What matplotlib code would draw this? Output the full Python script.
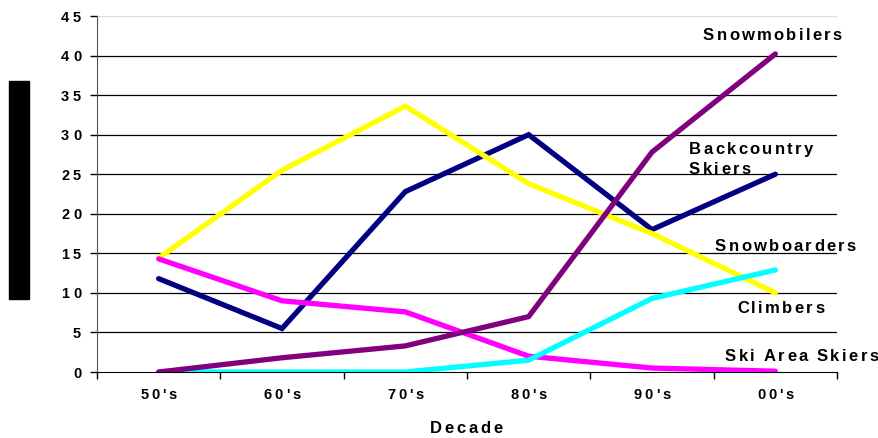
import numpy as np
import matplotlib.pyplot as plt
from matplotlib.patches import Rectangle
from matplotlib.transforms import offset_copy, blended_transform_factory
from matplotlib.font_manager import FontProperties, findfont, get_font

plt.rcParams['font.family'] = ['Liberation Sans', 'DejaVu Sans']

decades = ["50's", "60's", "70's", "80's", "90's", "00's"]
y_ticks = [0, 5, 10, 15, 20, 25, 30, 35, 40, 45]

backcountry = [11.8, 5.5, 22.8, 30.0, 18.0, 25.0]
climbers = [14.4, 25.5, 33.6, 23.8, 17.5, 10.0]
ski_area = [14.3, 9.0, 7.6, 2.0, 0.5, 0.1]
snowboarders = [0.0, 0.0, 0.0, 1.5, 9.3, 12.9]
snowmobilers = [0.0, 1.8, 3.3, 7.0, 27.8, 40.2]

series = [
    (backcountry, "#000080"),
    (climbers, "#FFFF00"),
    (ski_area, "#FF00FF"),
    (snowboarders, "#00FFFF"),
    (snowmobilers, "#800080"),
]

W, H = 879, 438
fig = plt.figure(figsize=(W / 100, H / 100), dpi=100)
ax = fig.add_axes([97 / W, 66 / H, 740 / W, 356 / H])

_font = get_font(findfont(FontProperties(family='Liberation Sans', weight='bold')))


def spaced_text(x, y, s, transform, size=12, track=1.6, ha='left'):
    """Bold text with extra letter spacing (in points), drawn char by char."""
    _font.set_size(size, 72)
    advs = []
    for c in s:
        g = _font.load_char(ord(c))
        advs.append(g.linearHoriAdvance / 65536)
    total = sum(advs) + track * (len(s) - 1)
    off = {'left': 0.0, 'center': -total / 2, 'right': -total}[ha]
    for c, a in zip(s, advs):
        if c != ' ':
            fig.text(x, y, c, fontsize=size, fontweight='bold', ha='left',
                     va='baseline',
                     transform=offset_copy(transform, fig, x=off, units='points'))
        off += a + track


x = np.arange(len(decades))
for vals, color in series:
    ax.plot(x, vals, color=color, lw=3.8, solid_capstyle='round',
            solid_joinstyle='miter', zorder=3)

ax.set_xlim(-0.5, len(decades) - 0.5)
ax.set_ylim(0, 45)
ax.set_yticks(y_ticks)
ax.set_xticks(np.arange(-0.5, len(decades), 1))
ax.tick_params(axis='x', length=5, direction='out', width=1, labelbottom=False)
ax.tick_params(axis='y', length=5, direction='out', width=1, labelleft=False)

for y in y_ticks[1:-1]:
    ax.axhline(y, color='black', lw=0.9, zorder=1)
ax.axhline(y_ticks[-1], color='#dddddd', lw=0.9, zorder=1)

ax.spines['top'].set_visible(False)
ax.spines['right'].set_visible(False)
ax.spines['left'].set_color('#555555')
ax.spines['bottom'].set_color('black')

# tick labels
ytr = offset_copy(blended_transform_factory(fig.transFigure, ax.transData),
                  fig, y=-4.0, units='points')
for v in y_ticks:
    spaced_text(81 / W, v, str(v), ytr, size=10.5, track=2.6, ha='right')
xtr = blended_transform_factory(ax.transData, fig.transFigure)
for i, d in enumerate(decades):
    spaced_text(i, 1 - 399 / H, d, xtr, size=10.5, track=2.0, ha='center')

spaced_text(466 / W, 1 - 433 / H, 'Decade', fig.transFigure, size=12,
            track=2.0, ha='center')

# series labels (left x, baseline y in pixels)
labels = [
    ("Snowmobilers", 703, 40),
    ("Backcountry", 689, 154),
    ("Skiers", 689, 174),
    ("Snowboarders", 715, 251),
    ("Climbers", 737, 313),
    ("Ski Area Skiers", 725, 361),
]
for s, px, py in labels:
    spaced_text(px / W, 1 - py / H, s, fig.transFigure, size=12, track=1.65)

# solid block over the y-axis title area
fig.patches.append(Rectangle((9 / W, 1 - 299 / H), 20 / W, 218 / H,
                             transform=fig.transFigure, color='black'))

fig.savefig('out.png', dpi=100)
